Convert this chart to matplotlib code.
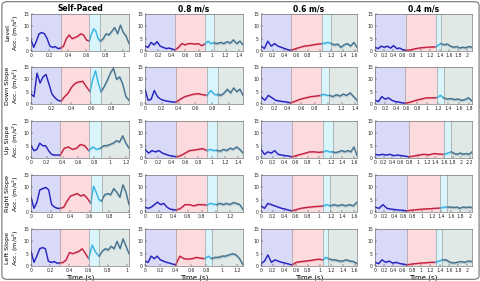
import numpy as np
import matplotlib.pyplot as plt
from matplotlib.patches import FancyBboxPatch

conditions = ['Self-Paced', '0.8 m/s', '0.6 m/s', '0.4 m/s']
terrains = ['Level', 'Down Slope', 'Up Slope', 'Right Slope', 'Left Slope']

# end of window (s) for each terrain x condition
x_end = [
    [1.06, 1.46, 1.64, 2.10],
    [0.98, 1.17, 1.43, 1.85],
    [1.24, 1.47, 1.65, 2.25],
    [1.00, 1.38, 1.65, 2.05],
    [1.02, 1.28, 1.64, 2.10],
]

# phase boundaries (s)
phase_bounds = [
    [[0.32, 0.63, 0.75], [0.45, 0.89, 1.03], [0.52, 1.04, 1.20], [0.67, 1.32, 1.43]],
    [[0.30, 0.59, 0.70], [0.37, 0.74, 0.87], [0.44, 0.89, 1.02], [0.58, 1.18, 1.31]],
    [[0.37, 0.73, 0.88], [0.47, 0.93, 1.08], [0.53, 1.07, 1.23], [0.78, 1.60, 1.77]],
    [[0.30, 0.61, 0.72], [0.44, 0.87, 1.01], [0.53, 1.07, 1.19], [0.67, 1.38, 1.53]],
    [[0.30, 0.60, 0.71], [0.40, 0.78, 0.87], [0.53, 1.06, 1.15], [0.69, 1.31, 1.46]],
]

# mean acceleration (m/s^2), one list per phase
level_acc = [
    [[4.5, 1.5, 4, 7, 7.5, 7, 5, 2, 1.5, 1.8, 1, 1.2],
     [1.2, 2, 5, 6.5, 5, 5.5, 6, 7, 6.5, 4.5, 4],
     [4, 7, 9, 8, 5, 4],
     [4, 5, 7, 6.5, 8, 9.5, 7, 10.5, 7.5, 6, 3]],
    [[2, 1.5, 3.5, 2.5, 3.8, 2, 1.5, 1, 1.2, 0.8, 0.5],
     [0.5, 1.5, 3, 2.5, 3, 3, 2.8, 3, 2.2, 2.8],
     [2.8, 4, 3, 3.5],
     [3.2, 3, 3.5, 3, 3.8, 3.2, 4.5, 3, 4, 2.5]],
    [[2, 1, 4, 2, 3, 2, 1.5, 1, 0.5, 0.3],
     [0.3, 1, 1.5, 2, 2.2, 2.5, 2.8, 3],
     [3, 3.2, 3.5, 3],
     [3, 2.5, 2.8, 1.5, 2.5, 3, 2, 3.5, 1.5]],
    [[1.5, 1, 2, 1.5, 2, 1.2, 2.2, 1, 1.2, 0.5, 0.3],
     [0.3, 0.5, 1, 1.3, 1.5, 1.6, 1.7],
     [1.7, 2.5, 3],
     [3, 2.5, 2.8, 2, 1.5, 1.8, 1.2, 1.5, 1.3, 1.8, 1.5]],
]
down_acc = [
    [[4, 3, 12.5, 8.5, 11, 12, 8, 4, 2.5, 1.5, 1.2],
     [1.2, 3, 4.5, 7, 8.5, 9, 9.2, 7, 5],
     [5, 10, 13.5, 8.5, 5],
     [5, 7, 9.5, 12.5, 14.5, 10, 11, 8, 3, 1.5]],
    [[6, 1.5, 2, 5.5, 3, 2, 1.5, 1.2, 1, 0.8, 0.8],
     [0.8, 2, 3, 3.5, 4, 4.2, 3.8, 3.5],
     [3.5, 5.5, 4, 3.5],
     [4, 3.5, 4.5, 6, 4.5, 6.5, 5, 6, 3.5]],
    [[3, 1.5, 3.5, 2.5, 1.5, 1.2, 1, 0.8, 0.5],
     [0.5, 1.2, 2, 2.5, 3, 3.2, 3.5],
     [3.5, 4, 3.5, 3.5],
     [3.5, 3, 3.8, 3.2, 4, 3.5, 4.5, 3, 1.5]],
    [[1.5, 1, 3, 2, 2.5, 1.5, 1, 0.8, 0.5, 0.3],
     [0.3, 0.8, 1.5, 2, 2.5, 2.5, 2.6],
     [2.6, 3.5, 2.5],
     [2.5, 2, 2.2, 1.8, 2, 1.5, 1.8, 2.5, 1.2]],
]
up_acc = [
    [[5, 3, 3.5, 6, 5, 5, 3, 1.5, 1.2, 1.2, 1.2],
     [1.2, 4, 4.5, 3.5, 4, 5.5, 5, 3],
     [3, 4.5, 3.5, 4],
     [4, 5, 5, 5.5, 6, 7, 6.5, 9, 6, 4]],
    [[3.5, 2, 3, 2.5, 3, 2, 1.5, 1, 0.8, 0.5],
     [0.5, 1, 2, 3, 3.2, 3.5, 3.8, 3],
     [3, 3.5, 3, 3.2],
     [3, 2.8, 3.5, 3, 4, 3.5, 4.5, 3.5, 2]],
    [[3.5, 1.5, 2.5, 2, 3, 1.5, 1.2, 1, 0.8, 0.5],
     [0.5, 1, 1.5, 2, 2.5, 2.5, 2.3, 2.5],
     [2.5, 3, 2.5, 2.5],
     [2.5, 2.2, 2.5, 3, 2.5, 3, 2.5, 4.5, 1]],
    [[1.5, 1.2, 1.5, 1.2, 1.5, 1, 1.2, 1, 0.8, 0.5],
     [0.5, 0.8, 1.2, 1.5, 1.3, 1.8, 1.6, 1.5],
     [1.5, 2, 2.5],
     [2.5, 1.8, 1.5, 2, 1.5, 1.8, 1.5, 2.5]],
]
right_acc = [
    [[6, 1.5, 4, 9, 9.5, 10, 9, 3, 2, 1.5, 1.5],
     [1.5, 2, 4.5, 6.5, 7, 7.5, 6.5, 7, 5.5, 3.5],
     [3.5, 10.5, 8, 5, 4.5],
     [4.5, 7, 7.5, 7, 9.5, 8, 6, 11, 8, 3]],
    [[2, 1.5, 2, 3, 4, 3, 3.5, 2, 1.2, 1, 0.8],
     [0.8, 1.5, 3, 3, 2.5, 3, 3, 2.8],
     [2.8, 3.5, 3.2, 3],
     [3, 3.5, 3, 3.5, 3, 3.8, 3.5, 3, 1]],
    [[2.5, 1.5, 3.5, 3, 2.5, 2, 1.5, 1.2, 0.8, 0.5],
     [0.5, 1, 1.5, 1.8, 2, 2.2, 2.3, 2.5],
     [2.5, 3, 2.5],
     [2.5, 3, 2.5, 3, 2.5, 3, 2.5, 4]],
    [[2, 1.5, 3, 1.5, 1.2, 1, 0.8, 0.7, 0.5],
     [0.5, 0.8, 1, 1.2, 1.3, 1.5, 1.6],
     [1.6, 2, 2],
     [2, 2, 1.8, 2, 1.5, 2, 1.8, 2, 1.8]],
]
left_acc = [
    [[6, 1.5, 4, 7, 7.5, 7, 2, 1.5, 1.8, 1.2, 1.2],
     [1.2, 1.5, 2.5, 5.5, 5, 5.5, 6, 7, 5, 3],
     [3, 8.5, 5.5, 4],
     [4, 6, 7, 6.5, 8, 7, 10, 7, 11, 8, 5]],
    [[2, 1.5, 4, 3, 4, 2.5, 2, 1.5, 1.2, 0.8, 0.5],
     [0.5, 4, 3, 2.8, 3, 3.5, 3.2, 3],
     [3, 4, 3],
     [3, 3.5, 3.5, 4, 4, 4.5, 5, 4.5, 3, 0.5]],
    [[1, 2, 4.5, 1.5, 2.5, 2, 1.5, 1.2, 0.8, 0.5],
     [0.5, 1.5, 1.8, 2, 2.2, 2.5, 2.8, 2.5],
     [2.5, 3.5, 3],
     [3, 2.5, 2.5, 2, 2, 2.5, 2, 1.8, 1]],
    [[1.5, 1, 2.5, 1.5, 2, 1.2, 1.5, 1, 0.8, 0.5],
     [0.5, 0.8, 1, 1.2, 1.3, 1.5, 1.5],
     [1.5, 2, 2.5],
     [2.5, 2.5, 1.5, 1.2, 1.5, 1.8, 1.5, 2, 1.8]],
]
all_acc = [level_acc, down_acc, up_acc, right_acc, left_acc]

# std band half-width per phase
phase_sd = [0.3, 0.35, 0.5, 0.6]

fill_colors = ['#d9d9f8', '#fcdbdf', '#daf4fb', '#e0e9e6']
line_colors = ['#2424c0', '#c52040', '#38b4e6', '#44728f']

W, H = 481, 281
col_left = [31, 145, 261, 375]
col_width = [98, 98, 96, 97]
row_top = [14, 67, 121, 175, 229]
row_h = 37

fig = plt.figure(figsize=(W / 100, H / 100), dpi=100)

for r in range(len(terrains)):
    for c in range(len(conditions)):
        ax = fig.add_axes([col_left[c] / W, 1 - (row_top[r] + row_h) / H,
                           col_width[c] / W, row_h / H])
        bounds = phase_bounds[r][c]
        edges = [0] + bounds + [x_end[r][c]]
        for p in range(4):
            ax.axvspan(edges[p], edges[p + 1], color=fill_colors[p], lw=0)
            y = np.array(all_acc[r][c][p], dtype=float)
            x = np.linspace(edges[p], edges[p + 1], len(y))
            ax.fill_between(x, y - phase_sd[p], y + phase_sd[p],
                            color=line_colors[p], alpha=0.25, lw=0)
            ax.plot(x, y, color=line_colors[p], lw=1.0)
        for b in bounds:
            ax.axvline(b, color='0.55', lw=0.4)

        ax.set_xlim(0, x_end[r][c])
        ax.set_ylim(0, 15)
        ax.set_yticks([0, 5, 10, 15])
        xt = np.arange(0, x_end[r][c] + 1e-6, 0.2)
        ax.set_xticks(xt)
        ax.set_xticklabels(['%g' % round(v, 1) for v in xt])
        ax.tick_params(direction='in', length=1.5, width=0.3, labelsize=3.3,
                       pad=1.5, colors='0.15')
        for s in ax.spines.values():
            s.set_linewidth(0.4)
            s.set_color('0.35')

        if r == 0:
            ax.set_title(conditions[c], fontsize=5.5, fontweight='bold', pad=2)
        if c == 0:
            ax.set_ylabel(terrains[r] + '\nAcc. (m/s$^2$)', fontsize=4.6,
                          labelpad=1.5, linespacing=1.05)
        if r == len(terrains) - 1:
            ax.set_xlabel('Time (s)', fontsize=5, labelpad=1)

frame = FancyBboxPatch((0.004, 0.006), 0.992, 0.988,
                       boxstyle='round,pad=0,rounding_size=0.012',
                       transform=fig.transFigure, fill=False,
                       ec='0.45', lw=0.8)
fig.patches.append(frame)

fig.savefig('out.png', dpi=100)
